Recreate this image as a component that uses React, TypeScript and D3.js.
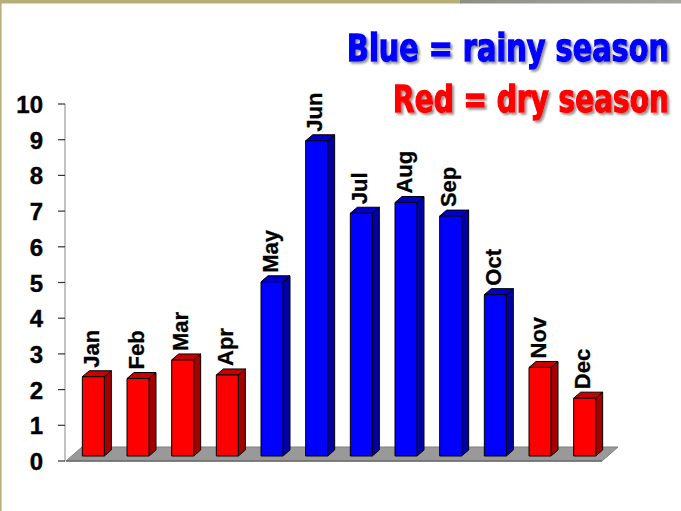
import React, { useLayoutEffect, useRef, useState } from "react";
import * as d3 from "d3";

const months = ["Jan", "Feb", "Mar", "Apr", "May", "Jun", "Jul", "Aug", "Sep", "Oct", "Nov", "Dec"];
const rainfall = [2.22, 2.17, 2.69, 2.27, 4.88, 8.83, 6.8, 7.1, 6.72, 4.52, 2.48, 1.62];
const rainy = [false, false, false, false, true, true, true, true, true, true, false, false];
const yTicks = [0, 1, 2, 3, 4, 5, 6, 7, 8, 9, 10];
const titles = ["Blue = rainy season", "Red = dry season"];
const titleColors = ["#0000FF", "#FF0000"];
const titleWidths = [322, 276];
const titleBaselines = [61, 112];

const W = 681;
const H = 511;

export default function App() {
  const refs = [useRef<SVGTextElement>(null), useRef<SVGTextElement>(null)];
  const [sx, setSx] = useState([0.8, 0.8]);

  useLayoutEffect(() => {
    const next = refs.map((r, i) => {
      const el = r.current;
      if (!el) return 0.8;
      const w = el.getComputedTextLength();
      return w > 0 ? titleWidths[i] / w : 0.8;
    });
    setSx(next);
  }, []);

  const x = d3.scaleBand<string>().domain(months).range([66, 602]).padding(0);
  const y = d3.scaleLinear().domain([0, 10]).range([461, 104]);

  const barW = 22;
  const shiftX = 5;
  const shiftY = 5;
  const dx = 7;
  const dy = 6;
  const floorDx = 16;
  const floorDy = 14;

  const colors = {
    dry: { front: "#FF0000", side: "#A30000", top: "#C80000" },
    wet: { front: "#0000FF", side: "#0000A3", top: "#0000C8" },
  };

  const x0 = x.range()[0];
  const x1 = x.range()[1];
  const yb = y(0);

  return (
    <svg
      width={W}
      height={H}
      style={{ position: "absolute", left: 0, top: 0, background: "#fff" }}
      fontFamily="'Liberation Sans', Arial, sans-serif"
    >
      <defs>
        <linearGradient id="topGray" x1="0" x2="1" y1="0" y2="0">
          <stop offset="0" stopColor="#8c8f85" />
          <stop offset="0.5" stopColor="#9a9d92" />
          <stop offset="1" stopColor="#a4a79c" />
        </linearGradient>
        <filter id="shadow" x="-5%" y="-20%" width="110%" height="150%">
          <feDropShadow dx="2" dy="2" stdDeviation="1.2" floodColor="#7a7a7a" floodOpacity="0.8" />
        </filter>
      </defs>
      <rect x={0} y={0} width={W} height={H} fill="#fff" />
      <rect x={0} y={0} width={461} height={3.5} fill="#b6b078" />
      <rect x={460} y={0} width={W - 460} height={3.5} fill="url(#topGray)" />
      <rect x={0} y={0} width={1.6} height={H} fill="#b6b078" />

      <g
        filter="url(#shadow)"
        fontFamily="'Liberation Sans Narrow', 'DejaVu Sans Condensed', 'Liberation Sans', sans-serif"
        fontWeight={900}
        textAnchor="end"
      >
        {titles.map((t, i) => (
          <text
            key={t}
            ref={refs[i]}
            transform={`translate(669,${titleBaselines[i]}) scale(${sx[i]},1)`}
            x={0}
            y={0}
            fontSize={37}
            fill={titleColors[i]}
            stroke={titleColors[i]}
            strokeWidth={1.4}
          >
            {t}
          </text>
        ))}
      </g>

      <polygon
        points={`${x0},${yb} ${x1},${yb} ${x1 + floorDx},${yb - floorDy} ${x0 + floorDx},${yb - floorDy}`}
        fill="#999999"
        stroke="#7f7f7f"
        strokeWidth={1}
      />
      <line x1={x0} x2={x1} y1={yb} y2={yb} stroke="#6e6e6e" strokeWidth={1.5} />

      <line x1={65} x2={65} y1={y(10)} y2={y(0)} stroke="#9a9a9a" strokeWidth={1.2} />
      {yTicks.map((t) => (
        <g key={t}>
          <line x1={58} x2={65} y1={y(t)} y2={y(t)} stroke="#333" strokeWidth={1.2} />
          <text
            x={43}
            y={y(t) + 9}
            textAnchor="end"
            fontSize={24}
            fontWeight="bold"
            fill="#000"
            stroke="#000"
            strokeWidth={0.4}
          >
            {t}
          </text>
        </g>
      ))}

      {months.map((m, i) => {
        const c = rainy[i] ? colors.wet : colors.dry;
        const xl = (x(m) as number) + (x.bandwidth() - barW) / 2 + shiftX;
        const xr = xl + barW;
        const yt = y(rainfall[i]) - shiftY;
        const ybb = y(0) - shiftY;
        return (
          <g key={m} stroke="#000" strokeWidth={1} strokeLinejoin="round">
            <polygon points={`${xr},${yt} ${xr + dx},${yt - dy} ${xr + dx},${ybb - dy} ${xr},${ybb}`} fill={c.side} />
            <polygon points={`${xl},${yt} ${xl + dx},${yt - dy} ${xr + dx},${yt - dy} ${xr},${yt}`} fill={c.top} />
            <rect x={xl} y={yt} width={barW} height={ybb - yt} fill={c.front} />
            <text
              transform={`translate(${xl + 16.5},${yt - dy - 3}) rotate(-90)`}
              fontSize={22}
              fontWeight="bold"
              fill="#000"
              stroke="#000"
              strokeWidth={0.3}
            >
              {m}
            </text>
          </g>
        );
      })}
    </svg>
  );
}
